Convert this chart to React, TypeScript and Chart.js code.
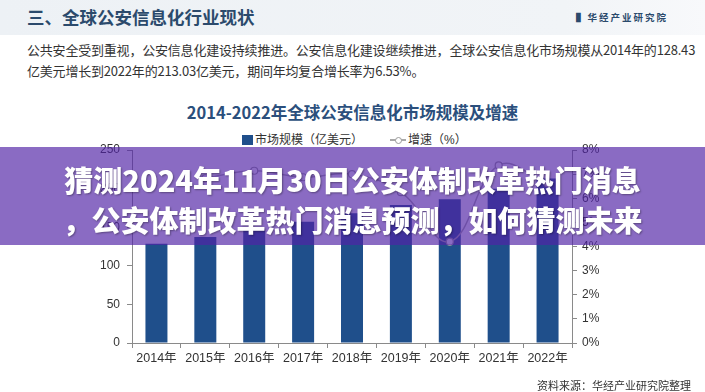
import React, { useEffect, useRef } from "react";
import { Chart, registerables } from "chart.js";
Chart.register(...registerables);

const years = ["2014年", "2015年", "2016年", "2017年", "2018年", "2019年", "2020年", "2021年", "2022年"];
const marketSize = [128.43, 137.2, 147.0, 157.1, 168.1, 178.6, 186.1, 199.8, 213.03];
const growthRate = [null, 6.83, 7.14, 6.87, 7.0, 6.25, 4.2, 7.36, 6.62];
const leftTicks = [0, 50, 100, 150, 200, 250];
const rightTicks = [0, 1, 2, 3, 4, 5, 6, 7, 8];

const CJK = '"Liberation Sans", Arial, "Noto Sans CJK SC", sans-serif';
const CJKB = '"Noto Sans CJK SC", "Liberation Sans", sans-serif';

export default function App() {
  const ref = useRef<HTMLCanvasElement | null>(null);

  useEffect(() => {
    if (!ref.current) return;
    const chart = new Chart(ref.current, {
      data: {
        labels: years,
        datasets: [
          {
            type: "line",
            label: "增速（%）",
            data: growthRate as any,
            yAxisID: "y1",
            borderColor: "#ABABAB",
            borderWidth: 1.5,
            backgroundColor: "#ffffff",
            pointBackgroundColor: "#ffffff",
            pointBorderColor: "#9A9A9A",
            pointBorderWidth: 1.2,
            pointRadius: 3.5,
            tension: 0.4,
            order: 0,
          },
          {
            type: "bar",
            label: "市场规模（亿美元）",
            data: marketSize,
            yAxisID: "y",
            backgroundColor: "#1F4F8B",
            barPercentage: 0.45,
            categoryPercentage: 1,
            order: 1,
          },
        ],
      },
      options: {
        responsive: false,
        animation: false,
        devicePixelRatio: 1,
        layout: { padding: { top: 20, bottom: 0, left: 0, right: 0 } },
        plugins: { legend: { display: false }, tooltip: { enabled: false }, title: { display: false } },
        scales: {
          x: {
            offset: true,
            afterFit: (s: any) => { s.height = 49; },
            grid: { offset: true, drawOnChartArea: false, tickLength: 5, color: "#8a8a8a" },
            border: { color: "#8a8a8a" },
            ticks: { color: "#333", font: { family: CJK, size: 12.5 }, padding: 3, maxRotation: 0 },
          },
          y: {
            position: "left",
            min: 0,
            max: 250,
            afterFit: (s: any) => { s.width = 132; },
            afterBuildTicks: (s: any) => { s.ticks = leftTicks.map((v) => ({ value: v })); },
            grid: { drawOnChartArea: false, tickLength: 5, color: "#8a8a8a" },
            border: { color: "#8a8a8a" },
            ticks: { color: "#333", font: { family: CJK, size: 12 }, padding: 7 },
          },
          y1: {
            position: "right",
            min: 0,
            max: 8,
            afterFit: (s: any) => { s.width = 133; },
            afterBuildTicks: (s: any) => { s.ticks = rightTicks.map((v) => ({ value: v })); },
            grid: { drawOnChartArea: false, tickLength: 5, color: "#8a8a8a" },
            border: { color: "#8a8a8a" },
            ticks: { color: "#333", font: { family: CJK, size: 12 }, padding: 5, callback: (v: any) => v + "%" },
          },
        },
      },
    } as any);
    return () => chart.destroy();
  }, []);

  return (
    <div style={{ position: "fixed", left: 0, top: 0, width: 705, height: 392, background: "#fff", overflow: "hidden", fontFamily: CJKB }}>
      <div style={{ position: "absolute", left: 0, top: 0, width: 705, height: 35, background: "linear-gradient(90deg, #EDF1F5 0%, #F1F4F7 80%, #F8F9FB 100%)" }} />
      <div style={{ position: "absolute", left: 27, top: 5, fontSize: 17.5, fontWeight: 700, color: "#2B4A6C", whiteSpace: "nowrap", lineHeight: "24px" }}>
        三、全球公安信息化行业现状
      </div>
      <div style={{ position: "absolute", left: 576, top: 10, fontSize: 9.5, fontWeight: 700, color: "#2B4A6C", whiteSpace: "nowrap", letterSpacing: 2, lineHeight: "14px" }}>
        ▌华经产业研究院
      </div>
      <div style={{ position: "absolute", left: 27, top: 40, fontSize: 13, color: "#333", whiteSpace: "nowrap", lineHeight: "20.5px", letterSpacing: -0.2 }}>
        公共安全受到重视，公安信息化建设持续推进。公安信息化建设继续推进，全球公安信息化市场规模从2014年的128.43
        <br />
        亿美元增长到2022年的213.03亿美元，期间年均复合增长率为6.53%。
      </div>
      <div style={{ position: "absolute", left: 0, width: 705, top: 101, textAlign: "center", fontSize: 16.5, fontWeight: 700, color: "#2B4F7C", whiteSpace: "nowrap", lineHeight: "22px" }}>
        2014-2022年全球公安信息化市场规模及增速
      </div>
      <div style={{ position: "absolute", left: 242, top: 135, width: 11, height: 10, background: "#1F4F8B" }} />
      <div style={{ position: "absolute", left: 255, top: 132, fontSize: 12, color: "#333", whiteSpace: "nowrap", lineHeight: "16px", fontFamily: CJK }}>
        市场规模（亿美元）
      </div>
      <div style={{ position: "absolute", left: 390, top: 139, width: 16, height: 1.5, background: "#A8A8A8" }} />
      <div style={{ position: "absolute", left: 394.5, top: 136.5, width: 5, height: 5, borderRadius: 4, border: "1px solid #9A9A9A", background: "#fff" }} />
      <div style={{ position: "absolute", left: 408, top: 132, fontSize: 12, color: "#333", whiteSpace: "nowrap", lineHeight: "16px", fontFamily: CJK }}>
        增速（%）
      </div>
      <canvas ref={ref} width={705} height={262} style={{ position: "absolute", left: 0, top: 130, width: 705, height: 262 }} />
      <div style={{ position: "absolute", left: 537, top: 378, fontSize: 11, color: "#333", whiteSpace: "nowrap", lineHeight: "15px" }}>
        资料来源：华经产业研究院整理
      </div>
      <div style={{ position: "absolute", left: 0, top: 147, width: 705, height: 98, background: "rgba(80, 35, 165, 0.67)" }} />
      <div style={{ position: "absolute", left: 0, top: 159, width: 705, textAlign: "center", fontSize: 29, fontWeight: 900, color: "#fff", whiteSpace: "nowrap", lineHeight: "40px", textShadow: "1px 1px 2px rgba(0,0,0,0.35)" }}>
        猜测2024年11月30日公安体制改革热门消息
        <br />
        ，公安体制改革热门消息预测，如何猜测未来
      </div>
    </div>
  );
}
